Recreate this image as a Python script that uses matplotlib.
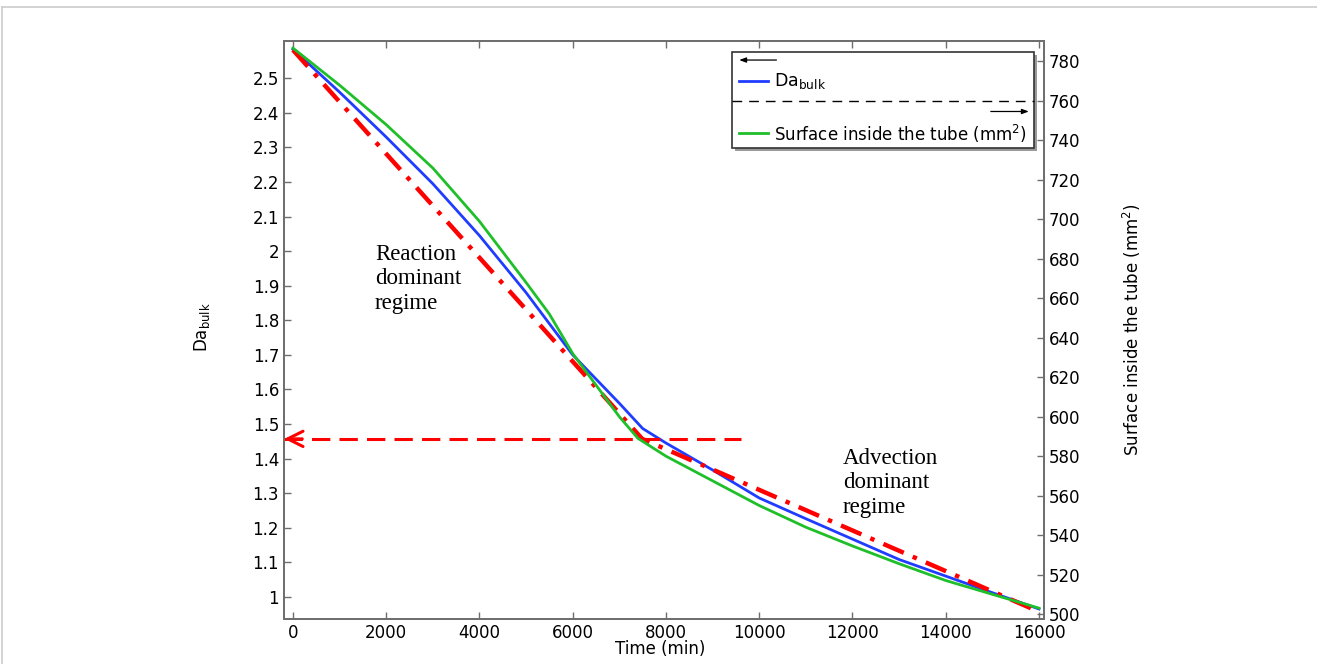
import numpy as np
import matplotlib
matplotlib.use('Agg')
from matplotlib import pyplot as plt
from matplotlib.patches import Rectangle
from matplotlib.lines import Line2D

plt.rcParams['font.family'] = ['DejaVu Sans']
plt.rcParams['mathtext.default'] = 'regular'

# Da_bulk (left axis)
t_blue = [0, 1000, 2000, 3000, 4000, 5000, 6000, 6500, 7000, 7500,
          8000, 9000, 10000, 11000, 12000, 13000, 14000, 15000, 16000]
da_bulk = [2.584, 2.46, 2.33, 2.195, 2.045, 1.88, 1.70, 1.63, 1.56, 1.487,
           1.445, 1.367, 1.286, 1.226, 1.167, 1.108, 1.06, 1.012, 0.965]

# surface inside the tube, mm^2 (right axis)
t_green = [0, 1000, 2000, 3000, 4000, 5000, 5500, 6000, 6500, 7000, 7400,
           8000, 9000, 10000, 11000, 12000, 13000, 14000, 15000, 16000]
surface = [786.8, 768, 748, 726, 699, 668, 652, 632, 616, 600, 589,
           580, 567.5, 555, 544, 534.5, 525.5, 517, 510, 503]

# regime fit (red dash-dot) and transition level
t_fit = [0, 7490, 16000]
da_fit = [2.582, 1.457, 0.957]
da_transition = 1.457
t_transition_end = 9600

x_ticks = np.arange(0, 16001, 2000)
y_ticks_left = [1, 1.1, 1.2, 1.3, 1.4, 1.5, 1.6, 1.7, 1.8, 1.9, 2, 2.1, 2.2, 2.3, 2.4, 2.5]
y_ticks_right = np.arange(500, 781, 20)

spine_col = '#6e6e6e'

fig = plt.figure(figsize=(13.17, 6.64), dpi=100)
ax = fig.add_axes([0.2156, 0.0678, 0.5771, 0.8705])
ax2 = ax.twinx()

ax.plot(t_blue, da_bulk, color='#1f3cff', lw=2, zorder=3)
ax2.plot(t_green, surface, color='#1fbf2a', lw=2, zorder=3)
ax.plot(t_fit, da_fit, color='red', lw=3.2, dashes=(5, 2.2, 1, 2.2), zorder=4)

ax.set_xlim(-193, 16107)
ax.set_ylim(0.936, 2.608)
ax2.set_ylim(497.5, 790.4)

# dashed transition line with open arrow head at the left axis
ax.plot([-193, t_transition_end], [da_transition, da_transition], color='red',
        lw=2.2, dashes=(6, 3), zorder=4)
ax.annotate('', xy=(-185, da_transition), xytext=(200, da_transition),
            arrowprops=dict(arrowstyle='->,head_length=1.1,head_width=0.55',
                            color='red', lw=2.2, shrinkA=0, shrinkB=0), zorder=5)

ax.text(1760, 2.02, 'Reaction\ndominant\nregime', family='Liberation Serif',
        fontsize=16.5, va='top', ha='left', linespacing=1.2)
ax.text(11790, 1.43, 'Advection\ndominant\nregime', family='Liberation Serif',
        fontsize=16.5, va='top', ha='left', linespacing=1.2)

ax.set_xticks(x_ticks)
ax.set_yticks(y_ticks_left)
ax.set_yticklabels([('%g' % v) for v in y_ticks_left])
ax2.set_yticks(y_ticks_right)

for a in (ax, ax2):
    for s in a.spines.values():
        s.set_color(spine_col)
        s.set_linewidth(1.3)
ax.tick_params(axis='both', direction='in', length=5, width=1, color=spine_col,
               labelsize=12, top=True, right=False)
ax2.tick_params(axis='y', direction='in', length=5, width=1, color=spine_col,
                labelsize=12)

ax.set_xlabel('Time (min)', fontsize=12)
ax.xaxis.set_label_coords(0.495, -0.037)
ax.set_ylabel('Da$_{bulk}$', fontsize=12)
ax.yaxis.set_label_coords(-0.095, 0.505)
ax2.set_ylabel('Surface inside the tube (mm$^2$)', fontsize=12)
ax2.yaxis.set_label_coords(1.101, 0.5)

# legend box drawn by hand (arrow rows show which axis each curve uses)
x0, x1, y0, y1 = 0.590, 0.987, 0.815, 0.9815
ax2.add_patch(Rectangle((x0 + 0.004, y0 - 0.006), x1 - x0, y1 - y0,
                        transform=ax2.transAxes, facecolor='#9a9a9a',
                        edgecolor='none', zorder=6))
ax2.add_patch(Rectangle((x0, y0), x1 - x0, y1 - y0, transform=ax2.transAxes,
                        facecolor='white', edgecolor='#333333', lw=1.2, zorder=7))
ax2.annotate('', xy=(0.599, 0.967), xytext=(0.648, 0.967), xycoords='axes fraction',
             arrowprops=dict(arrowstyle='-|>,head_length=0.4,head_width=0.15',
                             color='black', lw=0.9, shrinkA=0, shrinkB=0), zorder=8)
ax2.add_line(Line2D([0.599, 0.637], [0.931, 0.931], transform=ax2.transAxes,
                    color='#1f3cff', lw=2, zorder=8))
ax2.text(0.645, 0.931, 'Da$_{bulk}$', transform=ax2.transAxes, fontsize=12.5,
         va='center', ha='left', zorder=8)
ax2.add_line(Line2D([x0, x1], [0.896, 0.896], transform=ax2.transAxes,
                    color='black', lw=1, dashes=(7, 5), zorder=8))
ax2.annotate('', xy=(0.980, 0.878), xytext=(0.930, 0.878), xycoords='axes fraction',
             arrowprops=dict(arrowstyle='-|>,head_length=0.4,head_width=0.15',
                             color='black', lw=0.9, shrinkA=0, shrinkB=0), zorder=8)
ax2.add_line(Line2D([0.599, 0.637], [0.840, 0.840], transform=ax2.transAxes,
                    color='#1fbf2a', lw=2, zorder=8))
ax2.text(0.645, 0.840, 'Surface inside the tube (mm$^2$)', transform=ax2.transAxes,
         fontsize=12, va='center', ha='left', zorder=8)

# faint page frame
fig.add_artist(Line2D([0.0015, 1], [0.9895, 0.9895], color='#cccccc', lw=1.2))
fig.add_artist(Line2D([0.0015, 0.0015], [0, 0.9895], color='#cccccc', lw=1.2))

fig.savefig('out.png', dpi=100)
